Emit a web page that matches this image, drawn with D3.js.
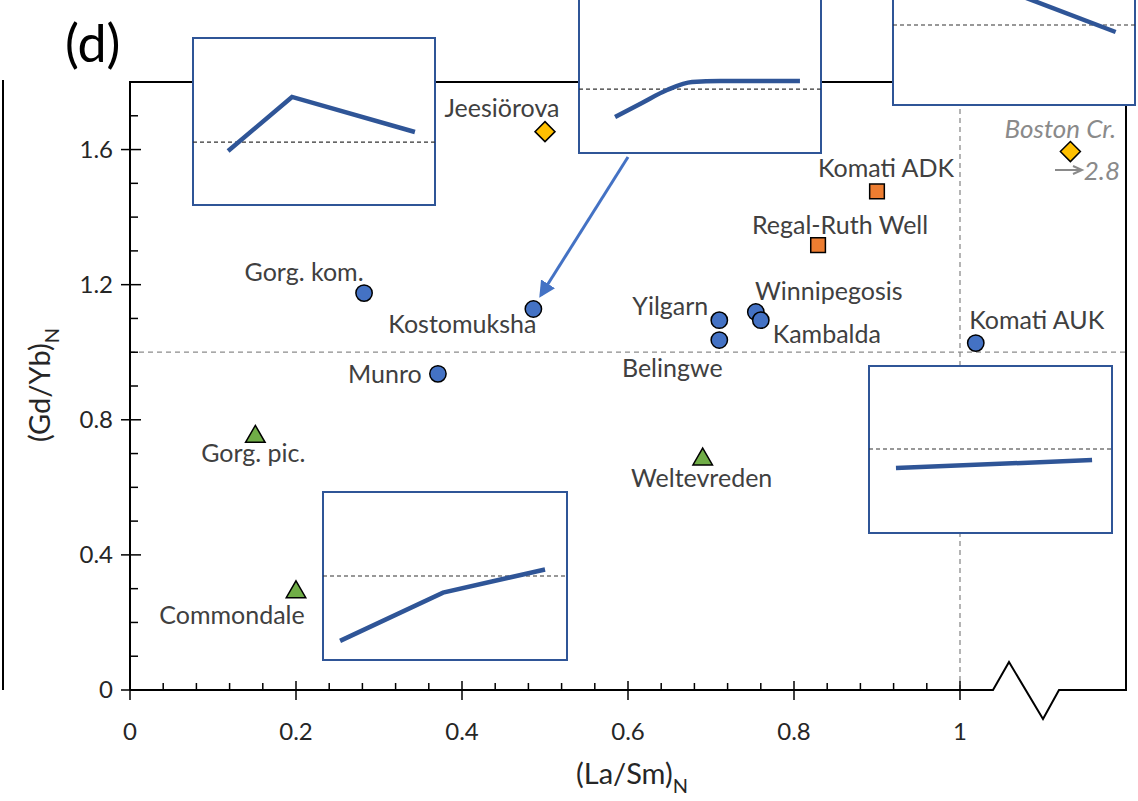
<!DOCTYPE html>
<html>
<head>
<meta charset="utf-8">
<script src="https://cdn.jsdelivr.net/npm/d3@7"></script>
<style>
  body { margin: 0; background: #fff; }
  svg { display: block; }
  text { font-family: Lato, "Open Sans", sans-serif; }
</style>
</head>
<body>
<div class="canvas"></div>
<script>
'use strict';

// localities and their ratios
const names = ['Jeesiörova', 'Boston Cr.', 'Komati ADK', 'Regal-Ruth Well', 'Winnipegosis',
    'Yilgarn', 'Kambalda', 'Belingwe', 'Komati AUK', 'Gorg. kom.', 'Kostomuksha', 'Munro',
    'Gorg. pic.', 'Weltevreden', 'Commondale'];
const laSm = [0.50, 1.133, 0.90, 0.829, 0.754, 0.710, 0.760, 0.710, 1.019, 0.282, 0.486, 0.371,
    0.151, 0.690, 0.200];
const gdYb = [1.653, 1.594, 1.476, 1.317, 1.119, 1.095, 1.095, 1.036, 1.027, 1.175, 1.128, 0.936,
    0.750, 0.683, 0.290];
const groups = ['diamond', 'diamond', 'square', 'square', 'circle', 'circle', 'circle', 'circle',
    'circle', 'circle', 'circle', 'circle', 'triangle', 'triangle', 'triangle'];

const xTicks = [0, 0.2, 0.4, 0.6, 0.8, 1];
const yTicks = [0, 0.4, 0.8, 1.2, 1.6];

// inset patterns: x along the box, y as fraction of box height; ref = dashed level
const insetSeries = [
    [[0.145, 0.323], [0.409, 0.647], [0.917, 0.437]],
    [[0.149, 0.216], [0.26, 0.30], [0.364, 0.377], [0.467, 0.425], [0.583, 0.431], [0.913, 0.431]],
    [[0.15, 0.862], [0.92, 0.437]],
    [[0.111, 0.389], [0.918, 0.437]],
    [[0.07, 0.114], [0.492, 0.401], [0.91, 0.539]]
];
const insetRef = [0.377, 0.383, 0.479, 0.503, 0.50];

// layout
const W = 1138, H = 801;
const margin = { left: 130, top: 82, right: 12, bottom: 111 };

const labelOffsets = [[-43, -23], [-10, -23], [9, -23], [22, -20], [73, -21], [-49, -14],
    [66, 14], [-47, 28], [61, -23], [-60, -21], [-71, 15], [-53, 0], [-2, 17], [-1, 19], [-64, 23]];
const insetBoxes = [
    { x: 193, y: 38, w: 242, h: 167 },
    { x: 579, y: -14, w: 242, h: 167 },
    { x: 893, y: -62, w: 242, h: 167 },
    { x: 869, y: 366, w: 243, h: 167 },
    { x: 323, y: 492, w: 244, h: 168 }
];

const colours = { circle: '#4472C4', square: '#ED7D31', diamond: '#FFC000', triangle: '#70AD47' };
const shapes = {
    circle: d3.symbol(d3.symbolCircle, 210)(),
    square: d3.symbol(d3.symbolSquare, 215)(),
    diamond: 'M0,-10 L10,0 L0,10 L-10,0 Z',
    triangle: d3.symbol(d3.symbolTriangle, 165)()
};

const svg = d3.select('.canvas')
    .append('svg')
    .attr('width', W)
    .attr('height', H);

const x = d3.scaleLinear().domain([0, 1.2]).range([margin.left, W - margin.right]);
const y = d3.scaleLinear().domain([0, 1.8]).range([H - margin.bottom, margin.top]);

const ink = '#262626';

// stray frame line of the neighbouring panel
svg.append('line')
    .attr('x1', 3).attr('x2', 3).attr('y1', 80).attr('y2', 690)
    .attr('stroke', '#000').attr('stroke-width', 2);

// reference lines
svg.append('line')
    .attr('x1', x(0)).attr('x2', x(1.2)).attr('y1', y(1)).attr('y2', y(1))
    .attr('stroke', '#8c8c8c').attr('stroke-width', 1.3).attr('stroke-dasharray', '5,4');
svg.append('line')
    .attr('x1', x(1)).attr('x2', x(1)).attr('y1', y(0)).attr('y2', y(1.8))
    .attr('stroke', '#8c8c8c').attr('stroke-width', 1.3).attr('stroke-dasharray', '5,4');

// frame with broken x axis
const x0 = x(0), x1 = x(1.2), yb = y(0), yt = y(1.8);
svg.append('path')
    .attr('d', `M${x0},${yb} V${yt} H${x1} V${yb} H1059 L1043,719 L1009,662 L993,${yb} H${x0}`)
    .attr('fill', 'none').attr('stroke', '#000').attr('stroke-width', 2);

// x ticks
const xMinor = d3.range(0, 1.0001, 0.04).filter(v => xTicks.every(t => Math.abs(t - v) > 1e-6));
svg.append('g').selectAll('line').data(xMinor).join('line')
    .attr('x1', d => x(d)).attr('x2', d => x(d))
    .attr('y1', yb - 7).attr('y2', yb)
    .attr('stroke', '#000').attr('stroke-width', 1.5);
svg.append('g').selectAll('line').data(xTicks).join('line')
    .attr('x1', d => x(d)).attr('x2', d => x(d))
    .attr('y1', yb - 9).attr('y2', yb + 10)
    .attr('stroke', '#000').attr('stroke-width', 1.5);
svg.append('g').selectAll('text').data(xTicks).join('text')
    .attr('x', d => x(d)).attr('y', 740)
    .attr('text-anchor', 'middle')
    .attr('font-size', 24).attr('fill', ink)
    .text(d => d3.format('~g')(d));

// y ticks
const yMinor = d3.range(0.1, 1.8, 0.1).filter(v => Math.abs(v / 0.4 - Math.round(v / 0.4)) > 1e-6);
svg.append('g').selectAll('line').data(yMinor).join('line')
    .attr('x1', x0).attr('x2', x0 + 8)
    .attr('y1', d => y(d)).attr('y2', d => y(d))
    .attr('stroke', '#000').attr('stroke-width', 1.5);
svg.append('g').selectAll('line').data(yTicks).join('line')
    .attr('x1', x0 - 9).attr('x2', x0 + 11)
    .attr('y1', d => y(d)).attr('y2', d => y(d))
    .attr('stroke', '#000').attr('stroke-width', 1.5);
svg.append('g').selectAll('text').data(yTicks).join('text')
    .attr('x', 113).attr('y', d => y(d))
    .attr('dy', '0.35em')
    .attr('text-anchor', 'end')
    .attr('font-size', 24).attr('fill', ink)
    .text(d => d3.format('~g')(d));

// axis titles
const xt = svg.append('text')
    .attr('x', 632).attr('y', 784)
    .attr('text-anchor', 'middle')
    .attr('font-size', 29).attr('fill', ink);
xt.append('tspan').text('(La/Sm)');
xt.append('tspan').attr('font-size', 20).attr('dy', 9).text('N');

const yt2 = svg.append('text')
    .attr('transform', 'translate(50,385) rotate(-90)')
    .attr('text-anchor', 'middle')
    .attr('font-size', 29).attr('fill', ink);
yt2.append('tspan').text('(Gd/Yb)');
yt2.append('tspan').attr('font-size', 20).attr('dy', 9).text('N');

// panel letter
svg.append('text')
    .attr('x', 65).attr('y', 62)
    .attr('font-size', 52).attr('fill', '#000')
    .text('(d)');

// arrow to Kostomuksha
svg.append('defs').append('marker')
    .attr('id', 'head')
    .attr('viewBox', '0 0 10 10')
    .attr('refX', 8).attr('refY', 5)
    .attr('markerWidth', 5.5).attr('markerHeight', 5.5)
    .attr('orient', 'auto')
    .append('path').attr('d', 'M0,0 L10,5 L0,10 Z').attr('fill', '#4472C4');
svg.append('line')
    .attr('x1', 628).attr('y1', 157)
    .attr('x2', 541).attr('y2', 295)
    .attr('stroke', '#4472C4').attr('stroke-width', 3)
    .attr('marker-end', 'url(#head)');

// points
const pts = names.map((n, i) => ({ name: n, lx: laSm[i], ly: gdYb[i], g: groups[i], off: labelOffsets[i] }));

svg.append('g').selectAll('path').data(pts).join('path')
    .attr('d', d => shapes[d.g])
    .attr('transform', d => `translate(${x(d.lx)},${y(d.ly)})`)
    .attr('fill', d => colours[d.g])
    .attr('stroke', '#000').attr('stroke-width', 1.5);

svg.append('g').selectAll('text').data(pts).join('text')
    .attr('x', d => x(d.lx) + d.off[0])
    .attr('y', d => y(d.ly) + d.off[1])
    .attr('dy', '0.35em')
    .attr('text-anchor', 'middle')
    .attr('font-size', d => d.name === 'Boston Cr.' ? 26 : 25)
    .attr('font-style', d => d.name === 'Boston Cr.' ? 'italic' : 'normal')
    .attr('fill', d => d.name === 'Boston Cr.' ? '#8a8a8a' : '#404040')
    .text(d => d.name);

// off-scale value of Boston Cr.
svg.append('text')
    .attr('x', 1120).attr('y', 171)
    .attr('dy', '0.35em')
    .attr('text-anchor', 'end')
    .attr('font-size', 26).attr('font-style', 'italic').attr('fill', '#8a8a8a')
    .text('2.8');
svg.append('path')
    .attr('d', 'M1055,170 H1080 M1073,166 L1082,170 L1073,174')
    .attr('fill', 'none').attr('stroke', '#8a8a8a').attr('stroke-width', 2);

// insets
const insets = svg.append('g').selectAll('g').data(insetBoxes).join('g')
    .attr('transform', d => `translate(${d.x},${d.y})`);

insets.append('rect')
    .attr('width', d => d.w).attr('height', d => d.h)
    .attr('fill', '#fff').attr('stroke', '#2F5597').attr('stroke-width', 2);

insets.each(function(b, i) {
    const g = d3.select(this);
    const ix = d3.scaleLinear().domain([0, 1]).range([0, b.w]);
    const iy = d3.scaleLinear().domain([0, 1]).range([b.h, 0]);

    g.append('line')
        .attr('x1', 0).attr('x2', b.w)
        .attr('y1', iy(insetRef[i])).attr('y2', iy(insetRef[i]))
        .attr('stroke', '#333').attr('stroke-width', 1.2).attr('stroke-dasharray', '4,3');

    const line = d3.line()
        .x(d => ix(d[0]))
        .y(d => iy(d[1]))
        .curve(i === 1 ? d3.curveMonotoneX : d3.curveLinear);

    g.append('path')
        .attr('d', line(insetSeries[i]))
        .attr('fill', 'none')
        .attr('stroke', '#2F5597').attr('stroke-width', 4.5);
});
</script>
</body>
</html>
